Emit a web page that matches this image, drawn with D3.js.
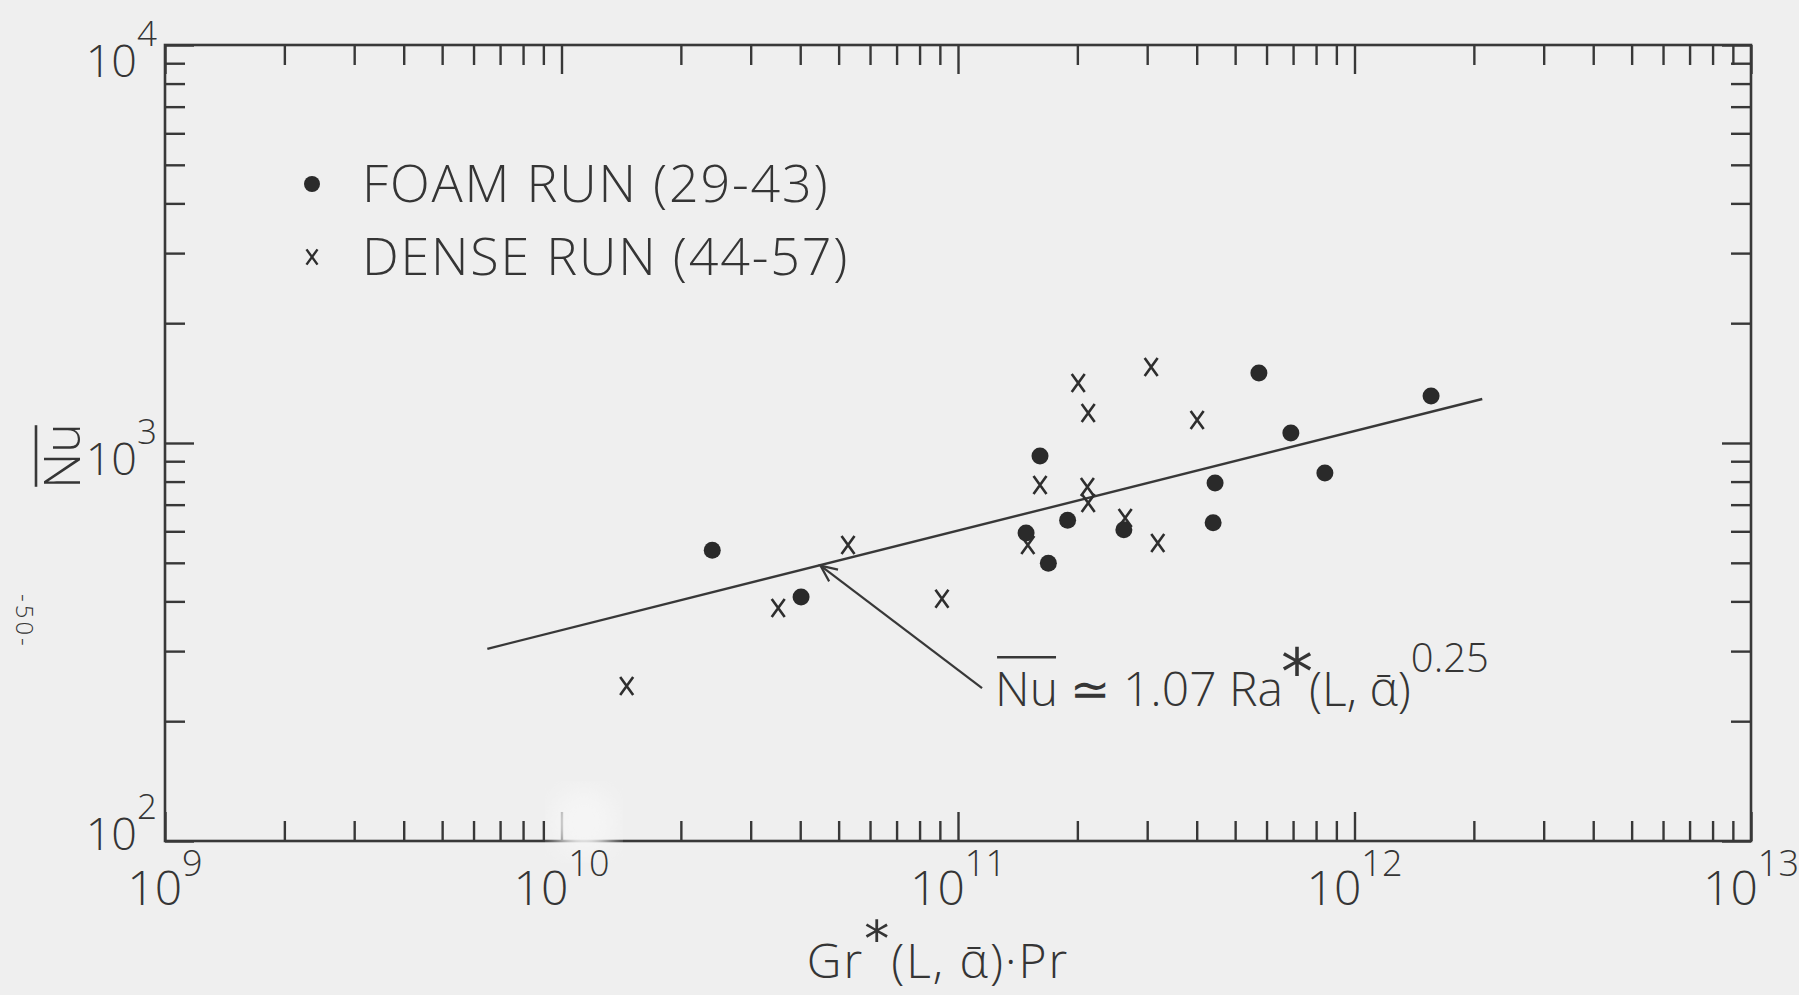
<!DOCTYPE html>
<html lang="en">
<head>
<meta charset="UTF-8">
<script src="https://cdn.jsdelivr.net/npm/d3@7"></script>
<title>Nu vs Gr*Pr</title>
<style>
    body { margin: 0; background: #efefef; }
    svg { display: block; }
    text { font-family: "Open Sans", "DejaVu Sans", sans-serif; font-weight: 300; fill: #353535; }
</style>
</head>
<body>
<script>
// foam runs (29-43)
let foamX = [2.40e10, 4.02e10, 1.61e11, 1.485e11, 1.69e11, 1.89e11, 2.62e11, 4.45e11, 4.40e11, 5.74e11, 6.91e11, 8.42e11, 1.56e12]
let foamY = [538, 410, 927, 594, 499, 640, 605, 793, 630, 1499, 1060, 841, 1313]
// dense runs (44-57)
let denseX = [1.46e10, 3.52e10, 5.28e10, 9.11e10, 1.50e11, 1.61e11, 2.01e11, 2.13e11, 2.12e11, 2.13e11, 2.64e11, 3.07e11, 3.19e11, 4.01e11]
let denseY = [245, 385, 554, 406, 554, 784, 1415, 1190, 775, 707, 648, 1552, 561, 1142]
// correlation line end points
let fitX = [6.5e9, 2.1e12]
let fitY = [304, 1290]
// arrow from the formula to the line: [tail, head]
let arrowX = [1.15e11, 4.5e10]
let arrowY = [242, 492]
let xDecades = [1e9, 1e10, 1e11, 1e12, 1e13]
let xExps = ["9", "10", "11", "12", "13"]
let yDecades = [1e2, 1e3, 1e4]
let yExps = ["2", "3", "4"]
let legendLabels = ["FOAM RUN (29-43)", "DENSE RUN (44-57)"]

let width = 1799
let height = 995
let ink = "#383838"

let svg = d3.select("body").append("svg")
    .attr("width", width)
    .attr("height", height)

svg.append("rect").attr("width", width).attr("height", height).attr("fill", "#efefef")

let x = d3.scaleLog().domain([1e9, 1e13]).range([165, 1751])
let y = d3.scaleLog().domain([1e2, 1e4]).range([841, 45])

let isMajor = d => Math.abs(Math.log10(d) - Math.round(Math.log10(d))) < 1e-6
let tickLen = d => isMajor(d) ? 29 : 20

// all ticks point into the frame
function inward(g, attr, sign) {
    g.select(".domain").remove()
    g.selectAll(".tick text").remove()
    g.selectAll(".tick line")
        .attr(attr, d => sign * tickLen(d))
        .attr("stroke", ink)
        .attr("stroke-width", 2.4)
}

svg.append("g").attr("transform", `translate(0,${y.range()[0]})`)
    .call(d3.axisBottom(x)).call(g => inward(g, "y2", -1))
svg.append("g").attr("transform", `translate(0,${y.range()[1]})`)
    .call(d3.axisTop(x)).call(g => inward(g, "y2", 1))
svg.append("g").attr("transform", `translate(${x.range()[0]},0)`)
    .call(d3.axisLeft(y)).call(g => inward(g, "x2", 1))
svg.append("g").attr("transform", `translate(${x.range()[1]},0)`)
    .call(d3.axisRight(y)).call(g => inward(g, "x2", -1))

svg.append("rect")
    .attr("x", x.range()[0]).attr("y", y.range()[1])
    .attr("width", x.range()[1] - x.range()[0])
    .attr("height", y.range()[0] - y.range()[1])
    .attr("fill", "none").attr("stroke", ink).attr("stroke-width", 2.6)

// a pale smudge on the scan near 10^10
let defs = svg.append("defs")
defs.append("filter").attr("id", "blur").append("feGaussianBlur").attr("stdDeviation", 11)
svg.append("ellipse").attr("cx", 584).attr("cy", 822).attr("rx", 32).attr("ry", 34)
    .attr("fill", "#f5f5f5").attr("filter", "url(#blur)")

// decade labels
let xl = svg.append("g").selectAll("text").data(xDecades).join("text")
    .attr("x", d => x(d))
    .attr("y", y.range()[0] + 64)
    .attr("text-anchor", "middle")
    .attr("font-size", 48)
xl.append("tspan").text("10")
xl.append("tspan").attr("dy", -29).attr("font-size", 36).text((d, i) => xExps[i])

let yl = svg.append("g").selectAll("text").data(yDecades).join("text")
    .attr("x", x.range()[0] - 8)
    .attr("y", (d, i) => y(d) + (i == 0 ? 9 : 32))
    .attr("text-anchor", "end")
    .attr("font-size", 45)
yl.append("tspan").text("10")
yl.append("tspan").attr("dy", -31).attr("font-size", 35).text((d, i) => yExps[i])

// correlation line
svg.append("path")
    .attr("d", d3.line().x(d => x(d[0])).y(d => y(d[1]))(d3.zip(fitX, fitY)))
    .attr("fill", "none").attr("stroke", ink).attr("stroke-width", 2.4)

// data
let cross = (s) => `M${-6.5 * s},${-9 * s}L${6.5 * s},${9 * s}M${6.5 * s},${-9 * s}L${-6.5 * s},${9 * s}`

svg.append("g").selectAll("path").data(d3.zip(denseX, denseY)).join("path")
    .attr("transform", d => `translate(${x(d[0])},${y(d[1])})`)
    .attr("d", cross(1))
    .attr("stroke", "#2e2e2e").attr("stroke-width", 2.6).attr("fill", "none")

svg.append("g").selectAll("circle").data(d3.zip(foamX, foamY)).join("circle")
    .attr("cx", d => x(d[0])).attr("cy", d => y(d[1])).attr("r", 8.5)
    .attr("fill", "#2a2a2a")

// legend
svg.append("circle").attr("cx", 312).attr("cy", 184).attr("r", 8).attr("fill", "#2a2a2a")
svg.append("path").attr("transform", "translate(312,257)").attr("d", cross(0.85))
    .attr("stroke", "#2e2e2e").attr("stroke-width", 2.4).attr("fill", "none")
svg.append("g").selectAll("text").data(legendLabels).join("text")
    .attr("x", 362).attr("y", (d, i) => 202 + i * 73)
    .attr("font-size", 52)
    .attr("letter-spacing", 1.8)
    .text(d => d)

// arrow to the line
let tail = [x(arrowX[0]), y(arrowY[0])]
let head = [x(arrowX[1]), y(arrowY[1])]
svg.append("line")
    .attr("x1", tail[0]).attr("y1", tail[1]).attr("x2", head[0]).attr("y2", head[1])
    .attr("stroke", ink).attr("stroke-width", 2.2)
let ang = Math.atan2(tail[1] - head[1], tail[0] - head[0])
let barb = a => [head[0] + 18 * Math.cos(ang + a), head[1] + 18 * Math.sin(ang + a)]
svg.append("path")
    .attr("d", d3.line()([barb(0.42), head, barb(-0.42)]))
    .attr("fill", "none").attr("stroke", ink).attr("stroke-width", 2.2)

// formula
let ann = svg.append("text")
    .attr("x", tail[0] + 13).attr("y", tail[1] + 18)
    .attr("font-size", 48)
ann.append("tspan").text("Nu")
ann.append("tspan").text(" \u2243 1.07 Ra")
ann.append("tspan").attr("font-family", "DejaVu Sans").attr("font-weight", 400)
    .attr("font-size", 64).attr("dx", -2).attr("dy", -12).text("*")
ann.append("tspan").attr("dx", -4).attr("dy", 12).text("(L, \u1FB1)")
ann.append("tspan").attr("font-size", 40).attr("dy", -34).text("0.25")

let n0 = ann.node().getExtentOfChar(0)
let n1 = ann.node().getExtentOfChar(1)
svg.append("line")
    .attr("x1", n0.x + 2).attr("x2", n1.x + n1.width - 2)
    .attr("y1", n0.y + 2).attr("y2", n0.y + 2)
    .attr("stroke", ink).attr("stroke-width", 2.4)

// axis titles
let xt = svg.append("text")
    .attr("x", (x.range()[0] + x.range()[1]) / 2 - 20)
    .attr("y", 978)
    .attr("text-anchor", "middle")
    .attr("font-size", 48)
    .attr("letter-spacing", 2)
xt.append("tspan").text("Gr")
xt.append("tspan").attr("font-family", "DejaVu Sans").attr("font-weight", 400)
    .attr("font-size", 50).attr("dy", -22).text("*")
xt.append("tspan").attr("dy", 22).text("(L, \u1FB1)\u00B7Pr")

let yt = svg.append("g").attr("transform", "translate(80,456) rotate(-90)")
let ytText = yt.append("text").attr("text-anchor", "middle").attr("font-size", 50).text("Nu")
let yb = ytText.node().getBBox()
yt.append("line")
    .attr("x1", yb.x + 2).attr("x2", yb.x + yb.width - 2)
    .attr("y1", -44).attr("y2", -44)
    .attr("stroke", ink).attr("stroke-width", 2.6)

// page number on the margin
svg.append("text")
    .attr("transform", "translate(16,594) rotate(90)")
    .attr("font-size", 24).attr("font-weight", 400).attr("letter-spacing", 3)
    .text("-50-")
</script>
</body>
</html>
